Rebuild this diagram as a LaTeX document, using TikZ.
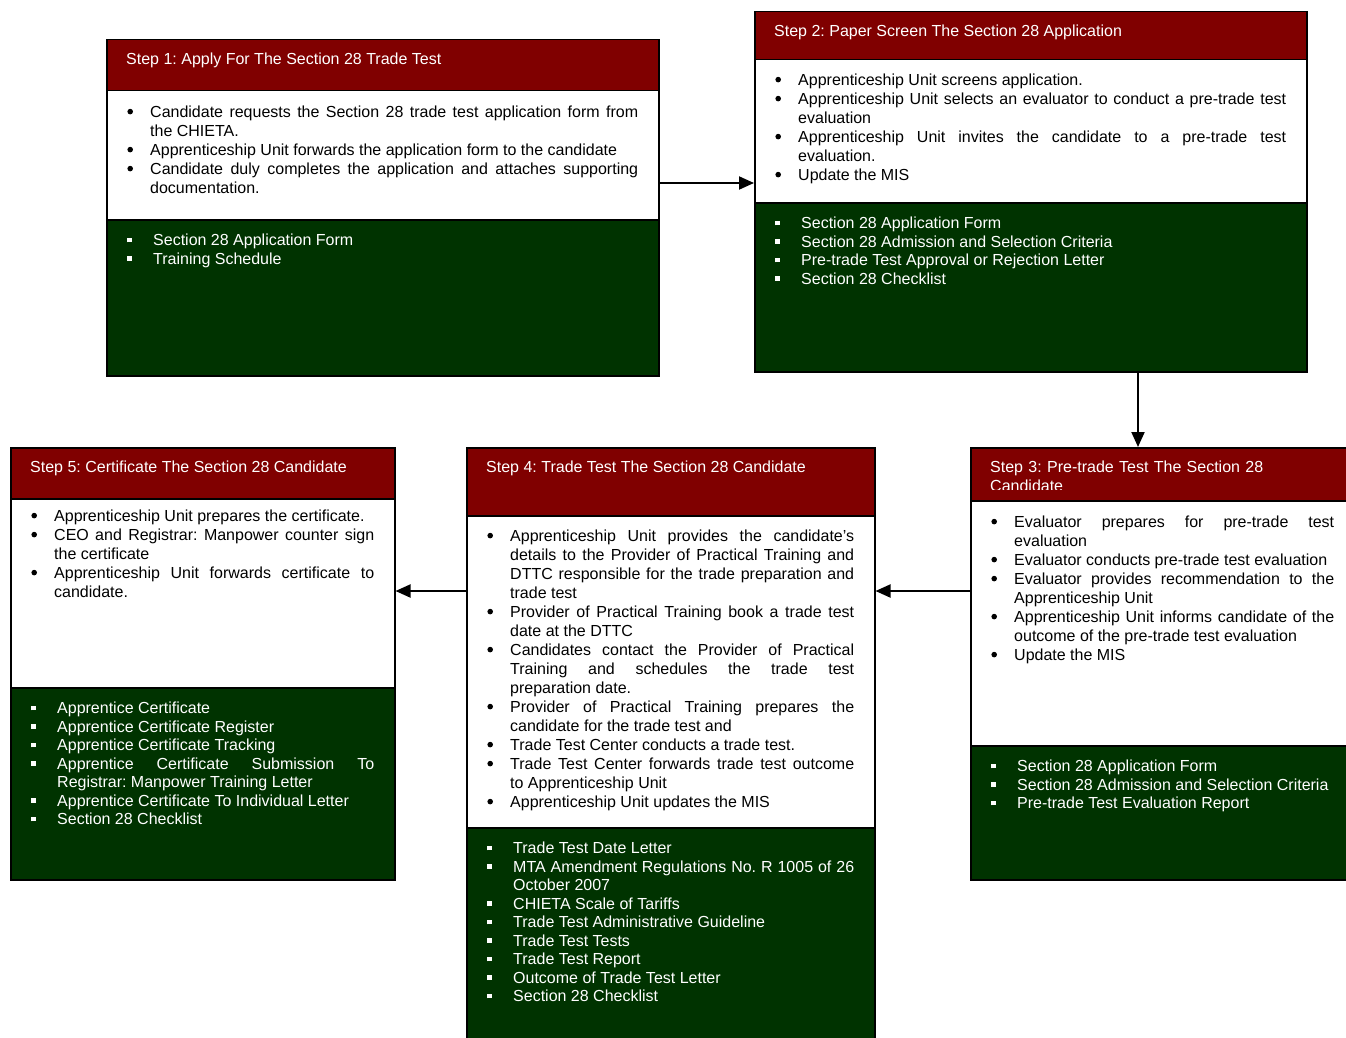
\documentclass[tikz,border=0pt]{standalone}
\usepackage{fontspec}
\setmainfont{Liberation Sans}
\usetikzlibrary{arrows.meta}
\definecolor{hred}{RGB}{128,0,0}
\definecolor{hgreen}{RGB}{0,51,0}
\tolerance=10000 \hyphenpenalty=10000 \exhyphenpenalty=10000
\frenchspacing
\newcommand\dotbul{\tikz[baseline=0pt]\fill[black] (0pt,5.6pt) circle[radius=2.8pt];}
\newcommand\bi[1]{\par\noindent\hangindent=26pt\hangafter=1\relax\makebox[26pt][l]{\hspace{3.2pt}\dotbul\rule{0pt}{13pt}}#1\par}
\newcommand\si[1]{\par\noindent\hangindent=29pt\hangafter=1\relax\makebox[29pt][l]{\hspace{3pt}\raisebox{3.4pt}{\rule{4.6pt}{4.6pt}}\rule{0pt}{13pt}}#1\par}
\tikzset{
 sec/.style={draw=black, line width=1.5pt, rectangle, inner sep=0pt, anchor=north west},
 outline/.style={draw=black, line width=1.5pt, rectangle, inner sep=0pt, anchor=north west},
 hdrtxt/.style={text=white, font=\fontsize{16}{19}\selectfont, inner sep=0pt, anchor=base west},
 bodytxt/.style={text=black, font=\fontsize{16}{19}\selectfont, inner sep=0pt, anchor=north west, align=justify},
 grntxt/.style={text=white, font=\fontsize{16}{18.5}\selectfont, inner sep=0pt, anchor=north west, align=justify},
 arr/.style={line width=2pt, -{Triangle[length=15pt,width=13pt]}},
}
\begin{document}
\begin{tikzpicture}[x=1pt,y=-1pt]
\useasboundingbox (0,0) rectangle (1346,1038);
\clip (0,0) rectangle (1346,1038);
\fill[white] (0,0) rectangle (1346,1038);

% ---------- Step 1 ----------
\node[sec, fill=hred, minimum width=552pt, minimum height=51pt] (b1h) at (106,39) {};
\node[sec, fill=white, minimum width=552pt, minimum height=129pt] (b1w) at (106,90) {};
\node[sec, fill=hgreen, minimum width=552pt, minimum height=156pt] (b1g) at (106,219) {};
\node[hdrtxt] (t1h) at (126,65) {Step 1: Apply For The Section 28 Trade Test};
\node[bodytxt, text width=514pt] (t1w) at (124,98) {%
\bi{Candidate requests the Section 28 trade test application form from\linebreak the CHIETA.}
\bi{Apprenticeship Unit forwards the application form to the candidate}
\bi{Candidate duly completes the application and attaches supporting\linebreak documentation.}};
\node[grntxt, text width=514pt] (t1g) at (124,227) {%
\si{Section 28 Application Form}
\si{Training Schedule}};
\node[outline, minimum width=552pt, minimum height=336pt] (s1) at (106,39) {};

% ---------- Step 2 ----------
\node[sec, fill=hred, minimum width=552pt, minimum height=48pt] (b2h) at (754,11) {};
\node[sec, fill=white, minimum width=552pt, minimum height=143pt] (b2w) at (754,59) {};
\node[sec, fill=hgreen, minimum width=552pt, minimum height=169pt] (b2g) at (754,202) {};
\node[hdrtxt] (t2h) at (774,37) {Step 2: Paper Screen The Section 28 Application};
\node[bodytxt, text width=514pt] (t2w) at (772,66) {%
\bi{Apprenticeship Unit screens application.}
\bi{Apprenticeship Unit selects an evaluator to conduct a pre-trade test\linebreak evaluation}
\bi{Apprenticeship Unit invites the candidate to a pre-trade test\linebreak evaluation.}
\bi{Update the MIS}};
\node[grntxt, text width=514pt] (t2g) at (772,210) {%
\si{Section 28 Application Form}
\si{Section 28 Admission and Selection Criteria}
\si{Pre-trade Test Approval or Rejection Letter}
\si{Section 28 Checklist}};
\node[outline, minimum width=552pt, minimum height=360pt] (s2) at (754,11) {};

% ---------- Step 3 ----------
\node[sec, fill=hred, minimum width=384pt, minimum height=53pt] (b3h) at (970,447) {};
\node[sec, fill=white, minimum width=384pt, minimum height=245pt] (b3w) at (970,500) {};
\node[sec, fill=hgreen, minimum width=384pt, minimum height=134pt] (b3g) at (970,745) {};
\begin{scope}
\clip (970,447) rectangle (1354,489.5);
\node[hdrtxt, anchor=north west, text width=340pt, align=left] (t3h) at (990,459) {\rule{0pt}{13pt}Step 3: Pre-trade Test The Section 28\\Candidate};
\end{scope}
\node[bodytxt, text width=346pt] (t3w) at (988,508) {%
\bi{Evaluator prepares for pre-trade test\linebreak evaluation}
\bi{Evaluator conducts pre-trade test evaluation}
\bi{Evaluator provides recommendation to the\linebreak Apprenticeship Unit}
\bi{Apprenticeship Unit informs candidate of the\linebreak outcome of the pre-trade test evaluation}
\bi{Update the MIS}};
\node[grntxt, text width=346pt] (t3g) at (988,753) {%
\si{Section 28 Application Form}
\si{Section 28 Admission and Selection Criteria}
\si{Pre-trade Test Evaluation Report}};
\node[outline, minimum width=384pt, minimum height=432pt] (s3) at (970,447) {};

% ---------- Step 4 ----------
\node[sec, fill=hred, minimum width=408pt, minimum height=68pt] (b4h) at (466,447) {};
\node[sec, fill=white, minimum width=408pt, minimum height=312pt] (b4w) at (466,515) {};
\node[sec, fill=hgreen, minimum width=408pt, minimum height=218pt] (b4g) at (466,827) {};
\node[hdrtxt] (t4h) at (486,472) {Step 4: Trade Test The Section 28 Candidate};
\node[bodytxt, text width=370pt] (t4w) at (484,522) {%
\bi{Apprenticeship Unit provides the candidate’s\linebreak details to the Provider of Practical Training and\linebreak DTTC responsible for the trade preparation and\linebreak trade test}
\bi{Provider of Practical Training book a trade test\linebreak date at the DTTC}
\bi{Candidates contact the Provider of Practical\linebreak Training and schedules the trade test\linebreak preparation date.}
\bi{Provider of Practical Training prepares the\linebreak candidate for the trade test and}
\bi{Trade Test Center conducts a trade test.}
\bi{Trade Test Center forwards trade test outcome\linebreak to Apprenticeship Unit}
\bi{Apprenticeship Unit updates the MIS}};
\node[grntxt, text width=370pt] (t4g) at (484,835) {%
\si{Trade Test Date Letter}
\si{MTA Amendment Regulations No. R 1005 of 26\linebreak October 2007}
\si{CHIETA Scale of Tariffs}
\si{Trade Test Administrative Guideline}
\si{Trade Test Tests}
\si{Trade Test Report}
\si{Outcome of Trade Test Letter}
\si{Section 28 Checklist}};
\node[outline, minimum width=408pt, minimum height=598pt] (s4) at (466,447) {};

% ---------- Step 5 ----------
\node[sec, fill=hred, minimum width=384pt, minimum height=51pt] (b5h) at (10,447) {};
\node[sec, fill=white, minimum width=384pt, minimum height=189pt] (b5w) at (10,498) {};
\node[sec, fill=hgreen, minimum width=384pt, minimum height=192pt] (b5g) at (10,687) {};
\node[hdrtxt] (t5h) at (30,472) {Step 5: Certificate The Section 28 Candidate};
\node[bodytxt, text width=346pt] (t5w) at (28,502) {%
\bi{Apprenticeship Unit prepares the certificate.}
\bi{CEO and Registrar: Manpower counter sign\linebreak the certificate}
\bi{Apprenticeship Unit forwards certificate to\linebreak candidate.}};
\node[grntxt, text width=346pt] (t5g) at (28,695) {%
\si{Apprentice Certificate}
\si{Apprentice Certificate Register}
\si{Apprentice Certificate Tracking}
\si{Apprentice Certificate Submission To\linebreak Registrar: Manpower Training Letter}
\si{Apprentice Certificate To Individual Letter}
\si{Section 28 Checklist}};
\node[outline, minimum width=384pt, minimum height=432pt] (s5) at (10,447) {};

% ---------- connectors ----------
\coordinate (a12) at (0,183);
\coordinate (a23) at (1138,0);
\coordinate (a345) at (0,591);
\draw[arr] (s1.east |- a12) -- (s2.west |- a12);
\draw[arr] (s2.south -| a23) -- (s3.north -| a23);
\draw[arr] (s3.west |- a345) -- (s4.east |- a345);
\draw[arr] (s4.west |- a345) -- (s5.east |- a345);
\end{tikzpicture}
\end{document}
